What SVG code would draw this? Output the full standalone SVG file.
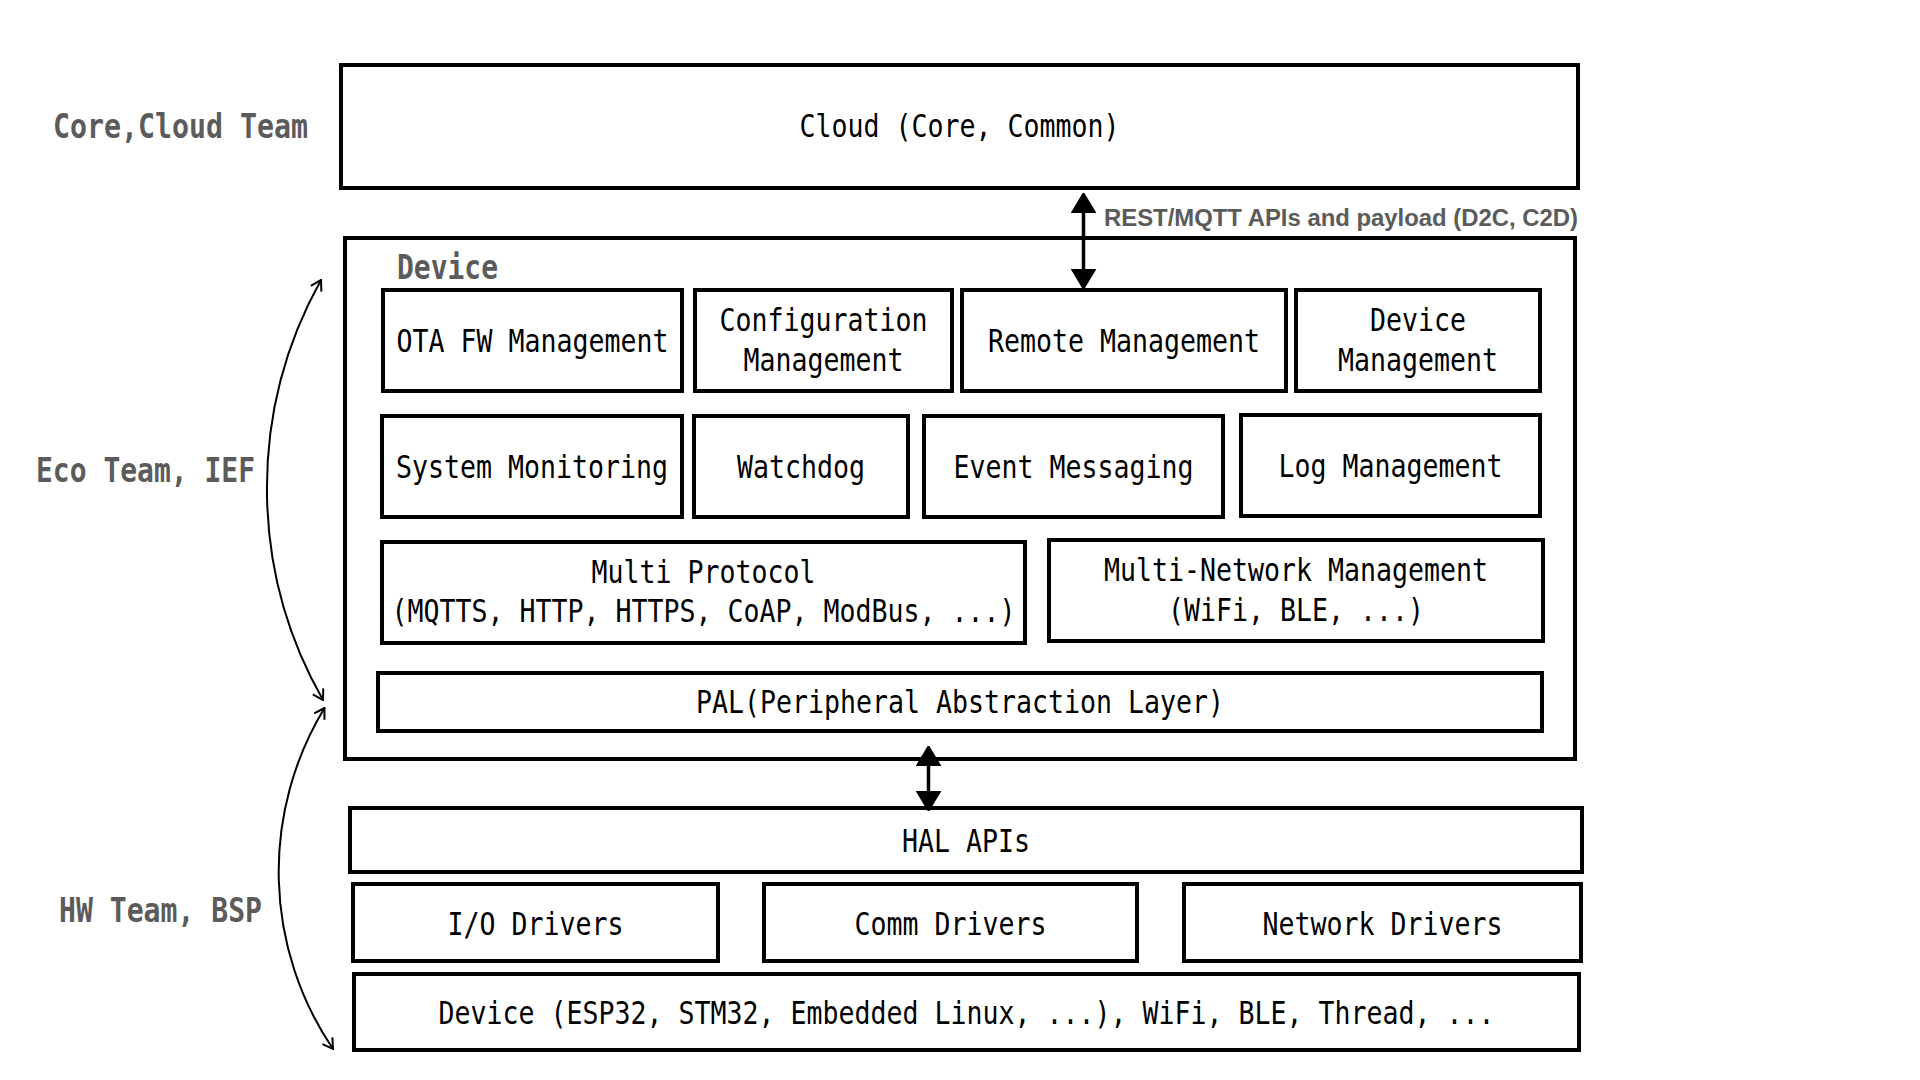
<svg xmlns="http://www.w3.org/2000/svg" width="1920" height="1080" viewBox="0 0 1920 1080">
<style>
.box{fill:#fff;stroke:#000;stroke-width:4}
.t{font-family:"DejaVu Sans Mono","Liberation Mono",monospace;font-size:32px;text-anchor:middle;fill:#000}
.lbl{font-family:"DejaVu Sans Mono","Liberation Mono",monospace;font-weight:bold;font-size:33px;fill:#5b5b5b}
.api{font-family:"Liberation Sans",Arial,sans-serif;font-weight:bold;font-size:23px;fill:#5b5b5b}
.big{fill:none;stroke:#000;stroke-width:3.5}
.arc{fill:none;stroke:#000;stroke-width:2}
</style>
<defs>
<marker id="solid" viewBox="0 0 20 26" refX="16" refY="13" markerWidth="20" markerHeight="26" markerUnits="userSpaceOnUse" orient="auto-start-reverse">
<path d="M0,1 L20,13 L0,25 Z" fill="#000" stroke="#000" stroke-width="1.5" stroke-linejoin="round"/>
</marker>
<marker id="open" viewBox="0 0 12 14" refX="11" refY="7" markerWidth="12" markerHeight="14" markerUnits="userSpaceOnUse" orient="auto-start-reverse">
<path d="M1,1 L11,7 L1,13" fill="none" stroke="#000" stroke-width="2"/>
</marker>
</defs>
<rect width="1920" height="1080" fill="#fff"/>

<g id="labels">
<text id="lbl-core" class="lbl" x="53" y="138" textLength="255" lengthAdjust="spacingAndGlyphs">Core,Cloud Team</text>
<text id="lbl-eco" class="lbl" x="36" y="482" textLength="219" lengthAdjust="spacingAndGlyphs">Eco Team, IEF</text>
<text id="lbl-hw" class="lbl" x="59" y="922" textLength="203" lengthAdjust="spacingAndGlyphs">HW Team, BSP</text>
</g>

<g id="cloud">
<rect class="box" x="341" y="65" width="1237" height="123"/>
<text class="t" x="959.5" y="137" textLength="320" lengthAdjust="spacingAndGlyphs">Cloud (Core, Common)</text>
</g>

<g id="device">
<rect class="box" x="345" y="238" width="1230" height="521"/>
<text class="lbl" x="397" y="279" textLength="101" lengthAdjust="spacingAndGlyphs">Device</text>
</g>

<g id="ota">
<rect class="box" x="383" y="290" width="299" height="101"/>
<text class="t" x="532.5" y="352" textLength="272" lengthAdjust="spacingAndGlyphs">OTA FW Management</text>
</g>
<g id="config">
<rect class="box" x="695" y="290" width="257" height="101"/>
<text class="t" x="823.5" y="331" textLength="208" lengthAdjust="spacingAndGlyphs">Configuration</text>
<text class="t" x="823.5" y="371" textLength="160" lengthAdjust="spacingAndGlyphs">Management</text>
</g>
<g id="remote">
<rect class="box" x="962" y="290" width="324" height="101"/>
<text class="t" x="1124" y="352" textLength="272" lengthAdjust="spacingAndGlyphs">Remote Management</text>
</g>
<g id="devmgmt">
<rect class="box" x="1296" y="290" width="244" height="101"/>
<text class="t" x="1418" y="331" textLength="96" lengthAdjust="spacingAndGlyphs">Device</text>
<text class="t" x="1418" y="371" textLength="160" lengthAdjust="spacingAndGlyphs">Management</text>
</g>

<g id="sysmon">
<rect class="box" x="382" y="416" width="300" height="101"/>
<text class="t" x="532" y="478" textLength="272" lengthAdjust="spacingAndGlyphs">System Monitoring</text>
</g>
<g id="watchdog">
<rect class="box" x="694" y="416" width="214" height="101"/>
<text class="t" x="801" y="478" textLength="128" lengthAdjust="spacingAndGlyphs">Watchdog</text>
</g>
<g id="event">
<rect class="box" x="924" y="416" width="299" height="101"/>
<text class="t" x="1073.5" y="478" textLength="240" lengthAdjust="spacingAndGlyphs">Event Messaging</text>
</g>
<g id="log">
<rect class="box" x="1241" y="415" width="299" height="101"/>
<text class="t" x="1390.5" y="477" textLength="224" lengthAdjust="spacingAndGlyphs">Log Management</text>
</g>

<g id="multiproto">
<rect class="box" x="382" y="542" width="643" height="101"/>
<text class="t" x="703.5" y="583" textLength="224" lengthAdjust="spacingAndGlyphs">Multi Protocol</text>
<text class="t" x="703.5" y="622" textLength="624" lengthAdjust="spacingAndGlyphs">(MQTTS, HTTP, HTTPS, CoAP, ModBus, ...)</text>
</g>
<g id="multinet">
<rect class="box" x="1049" y="540" width="494" height="101"/>
<text class="t" x="1296" y="581" textLength="384" lengthAdjust="spacingAndGlyphs">Multi-Network Management</text>
<text class="t" x="1296" y="621" textLength="256" lengthAdjust="spacingAndGlyphs">(WiFi, BLE, ...)</text>
</g>

<g id="pal">
<rect class="box" x="378" y="673" width="1164" height="58"/>
<text class="t" x="960" y="713" textLength="528" lengthAdjust="spacingAndGlyphs">PAL(Peripheral Abstraction Layer)</text>
</g>

<g id="hal">
<rect class="box" x="350" y="808" width="1232" height="64"/>
<text class="t" x="966" y="852" textLength="128" lengthAdjust="spacingAndGlyphs">HAL APIs</text>
</g>

<g id="io">
<rect class="box" x="353" y="884" width="365" height="77"/>
<text class="t" x="535.5" y="935" textLength="176" lengthAdjust="spacingAndGlyphs">I/O Drivers</text>
</g>
<g id="comm">
<rect class="box" x="764" y="884" width="373" height="77"/>
<text class="t" x="950.5" y="935" textLength="192" lengthAdjust="spacingAndGlyphs">Comm Drivers</text>
</g>
<g id="netdrv">
<rect class="box" x="1184" y="884" width="397" height="77"/>
<text class="t" x="1382.5" y="935" textLength="240" lengthAdjust="spacingAndGlyphs">Network Drivers</text>
</g>

<g id="hw">
<rect class="box" x="354" y="974" width="1225" height="76"/>
<text class="t" x="966.5" y="1024" textLength="1056" lengthAdjust="spacingAndGlyphs">Device (ESP32, STM32, Embedded Linux, ...), WiFi, BLE, Thread, ...</text>
</g>

<g id="connectors">
<path class="big" d="M1083.5,197 L1083.5,285" marker-start="url(#solid)" marker-end="url(#solid)"/>
<text class="api" x="1104" y="226" textLength="474" lengthAdjust="spacingAndGlyphs">REST/MQTT APIs and payload (D2C, C2D)</text>
<path class="big" d="M928.5,750 L928.5,807" marker-start="url(#solid)" marker-end="url(#solid)"/>
<path class="arc" d="M321,280 A428,428 0 0 0 323,700" marker-start="url(#open)" marker-end="url(#open)"/>
<path class="arc" d="M324.5,708 A316,316 0 0 0 333,1049" marker-start="url(#open)" marker-end="url(#open)"/>
</g>
</svg>
